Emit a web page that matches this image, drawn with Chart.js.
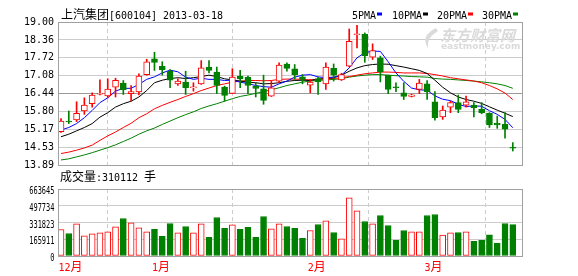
<!DOCTYPE html>
<html>
<head>
<meta charset="utf-8">
<script src="https://cdn.jsdelivr.net/npm/chart.js@4.4.1/dist/chart.umd.min.js"></script>
<style>
  html, body { margin: 0; padding: 0; background: #fff; }
  #wrap { position: relative; width: 578px; height: 276px; overflow: hidden; }
  canvas { position: absolute; left: 0; }
  #kline { top: 0; }
  #vol { top: 184px; }
</style>
</head>
<body>
<div id="wrap">
  <canvas id="kline" width="578" height="184"></canvas>
  <canvas id="vol" width="578" height="92"></canvas>
</div>
<script>
/* ------------------- DATA ------------------- */
const TITLE = "上汽集团[600104] 2013-03-18";
const VOL_TITLE = "成交量:310112 手";
const WATERMARK = ["东方财富网", "eastmoney.com"];

const opens  = [15.08,15.46,15.50,15.82,16.08,16.42,16.36,16.67,16.82,16.44,16.50,17.12,17.68,17.42,17.24,16.79,16.85,16.65,16.79,17.39,
                17.21,16.67,16.45,17.07,17.03,16.71,16.61,16.35,16.89,17.50,17.33,17.04,16.74,16.98,16.79,17.34,16.93,17.42,18.55,18.57,
                17.74,17.72,17.10,16.68,16.47,16.34,16.59,16.79,16.15,15.61,15.96,16.12,16.03,16.03,15.88,15.74,15.39,15.34,14.52];
const highs  = [15.55,15.82,16.15,16.29,16.47,16.93,16.97,16.99,16.91,16.73,17.15,17.67,17.92,17.58,17.30,16.97,17.24,16.83,17.62,17.62,
                17.39,16.71,17.33,17.27,17.07,16.83,17.10,16.89,17.54,17.54,17.48,17.12,16.95,17.03,17.54,17.50,17.17,18.75,18.88,18.61,
                18.22,17.78,17.10,16.83,16.83,16.42,16.95,16.91,16.51,16.00,16.17,16.39,16.35,16.12,16.12,15.76,15.64,15.76,14.69];
const lows   = [15.05,15.37,15.44,15.70,15.96,16.39,16.29,16.32,16.41,16.17,16.39,17.10,17.27,17.10,16.65,16.73,16.41,16.53,16.77,17.18,
                16.44,16.17,16.44,16.65,16.44,16.32,16.06,16.34,16.83,17.24,16.95,16.79,16.47,16.41,16.59,16.89,16.91,17.40,18.07,17.56,
                17.66,16.86,16.44,16.51,16.23,16.32,16.44,16.23,15.49,15.52,15.76,15.76,15.96,15.61,15.72,15.23,15.20,14.85,14.39];
const closes = [15.46,15.43,15.74,16.03,16.39,16.45,16.60,16.92,16.58,16.51,17.07,17.58,17.56,17.30,16.92,16.89,16.65,16.68,17.36,17.27,
                16.73,16.38,17.03,16.97,16.73,16.63,16.20,16.65,17.46,17.34,17.12,16.95,16.85,16.86,17.39,17.10,17.12,18.31,18.58,17.80,
                17.98,17.22,16.59,16.65,16.34,16.40,16.82,16.51,15.58,15.85,16.12,15.88,16.15,15.94,15.76,15.32,15.32,15.17,14.49];

const ma5  = [15.14,15.23,15.37,15.58,15.84,16.12,16.29,16.53,16.63,16.63,16.77,16.95,17.04,17.18,17.28,17.22,17.03,16.95,16.99,16.95,
              16.95,16.91,16.92,16.85,16.80,16.73,16.69,16.67,16.79,16.89,17.03,17.10,17.12,17.04,17.01,17.03,17.10,17.36,17.72,17.90,
              17.96,17.95,17.58,17.18,16.88,16.64,16.58,16.56,16.36,16.24,16.19,16.06,15.98,16.00,15.99,15.83,15.70,15.52,15.22];
const ma10 = [14.90,14.99,15.11,15.23,15.37,15.60,15.76,15.96,16.08,16.17,16.32,16.55,16.83,16.92,16.98,17.01,16.98,17.01,17.05,17.10,
              17.05,16.97,16.93,16.89,16.85,16.83,16.79,16.80,16.83,16.88,16.91,16.92,16.91,16.96,16.98,17.01,17.10,17.24,17.36,17.44,
              17.48,17.50,17.49,17.44,17.39,17.33,17.27,17.16,16.92,16.67,16.47,16.32,16.23,16.17,16.09,15.97,15.85,15.74,15.62];
const ma20 = [14.30,14.35,14.42,14.50,14.60,14.77,14.93,15.07,15.23,15.38,15.58,15.72,15.90,16.02,16.13,16.23,16.34,16.44,16.55,16.64,
              16.73,16.79,16.85,16.89,16.91,16.91,16.90,16.91,16.95,16.96,16.96,16.95,16.93,16.95,16.97,16.98,17.01,17.05,17.10,17.15,
              17.18,17.21,17.21,17.20,17.18,17.18,17.18,17.16,17.12,17.07,17.01,16.97,16.93,16.89,16.83,16.73,16.61,16.46,16.23];
const ma30 = [14.07,14.11,14.18,14.25,14.33,14.42,14.51,14.61,14.73,14.85,14.99,15.11,15.21,15.34,15.46,15.58,15.69,15.79,15.91,16.00,
              16.08,16.17,16.26,16.34,16.39,16.45,16.51,16.58,16.65,16.73,16.79,16.85,16.89,16.91,16.93,16.95,16.97,17.03,17.07,17.10,
              17.12,17.12,17.10,17.08,17.07,17.05,17.04,17.03,16.98,16.96,16.95,16.93,16.91,16.89,16.86,16.83,16.79,16.73,16.63];

const volumes = [262800,223000,318700,200000,220000,230000,240000,289000,371000,328500,
                 279000,240000,263000,194000,322000,230000,292000,230000,319000,184000,
                 381000,273000,309000,263000,283000,184000,391000,269000,319000,292000,
                 273000,174000,253000,312000,348000,233000,171000,575000,447000,342000,
                 319000,401000,302000,154000,253000,240000,240000,401000,411000,207000,
                 230000,233000,240000,145000,154000,210000,125000,322000,310112];

const priceTicks = [13.89, 14.53, 15.17, 15.80, 16.44, 17.08, 17.72, 18.36, 19.00];
const volTicks = [0, 165911, 331823, 497734, 663645];
const monthIdx = [0, 12, 32, 47];
const monthLabels = ["12月", "1月", "2月", "3月"];
const maNames = ["5PMA", "10PMA", "20PMA", "30PMA"];

/* ------------------- STYLE ------------------- */
const UP = "#ff0000", DOWN = "#008000";
const MA_COLORS = ["#0000ff", "#000000", "#ff0000", "#008000"];
const GRID = "#cccccc", GRID_MID = "#9a9a9a", FRAME = "#a0a0a0";
const ASCII_FONT = '10px "DejaVu Sans Mono"';
const CJK_FONT = '12px "Noto Sans CJK SC"';
const X_MIN = -0.385, X_MAX = 59.18;
const LEGEND_X = [352, 392, 437, 482];

const idx = closes.map((_, i) => i);
const isUp = closes.map((c, i) => c >= opens[i]);

// SimSun-like layout: half width for ascii, full width for CJK
function drawText(ctx, str, x, y, color) {
  ctx.save();
  ctx.fillStyle = color;
  ctx.textBaseline = "alphabetic";
  ctx.textAlign = "left";
  for (const ch of str) {
    const wide = ch.charCodeAt(0) > 255;
    ctx.font = wide ? CJK_FONT : ASCII_FONT;
    ctx.fillText(ch, x, y);
    x += wide ? 12 : 6;
  }
  ctx.restore();
}

const al = v => Math.round(v - 0.5) + 0.5;

const framePlugin = {
  id: "frame",
  afterDatasetsDraw(chart) {
    const { ctx, chartArea: a } = chart;
    ctx.save();
    ctx.strokeStyle = FRAME;
    ctx.lineWidth = 1;
    ctx.strokeRect(al(a.left), al(a.top), al(a.right) - al(a.left), al(a.bottom) - al(a.top));
    ctx.restore();
  }
};

const headerPlugin = {
  id: "header",
  afterDraw(chart) {
    const ctx = chart.ctx;
    drawText(ctx, TITLE, 61, 18.5, "#000");
    maNames.forEach((n, k) => {
      drawText(ctx, n, LEGEND_X[k], 18.5, "#000");
      ctx.fillStyle = MA_COLORS[k];
      ctx.fillRect(LEGEND_X[k] + n.length * 6 + 1, 12.5, 5, 3);
    });
    drawText(ctx, VOL_TITLE, 60, 180.5, "#000");
  }
};

const watermarkPlugin = {
  id: "watermark",
  beforeDatasetsDraw(chart) {
    const ctx = chart.ctx;
    ctx.save();
    ctx.fillStyle = "#dadada";
    ctx.font = 'italic bold 15px "Noto Sans CJK SC"';
    ctx.fillText(WATERMARK[0], 440, 41);
    ctx.font = 'bold 9px "DejaVu Sans"';
    ctx.fillText(WATERMARK[1], 441, 49);
    ctx.beginPath();
    ctx.moveTo(436, 28);
    ctx.quadraticCurveTo(420, 36, 428, 48);
    ctx.quadraticCurveTo(426, 38, 438, 31);
    ctx.closePath();
    ctx.fill();
    ctx.restore();
  }
};

const xScale = (extra) => Object.assign({
  type: "linear",
  min: X_MIN,
  max: X_MAX,
  offset: false,
  afterBuildTicks: s => { s.ticks = monthIdx.map(v => ({ value: v })); },
  afterFit: s => { s.height = 0; },
  ticks: { display: false },
  grid: { color: GRID, drawTicks: false },
  border: { display: false, dash: [4, 3] }
}, extra);

/* ------------------- K LINE ------------------- */
new Chart(document.getElementById("kline"), {
  type: "bar",
  data: {
    datasets: [
      {
        label: "body",
        data: idx.map(i => ({ x: i, y: [opens[i], closes[i]] })),
        backgroundColor: idx.map(i => isUp[i] ? "#ffffff" : DOWN),
        borderColor: idx.map(i => isUp[i] ? UP : DOWN),
        borderWidth: 1,
        borderSkipped: false,
        barThickness: 6,
        grouped: false,
        order: 0
      },
      {
        label: "wick",
        data: idx.map(i => ({ x: i, y: [lows[i], highs[i]] })),
        backgroundColor: idx.map(i => isUp[i] ? UP : DOWN),
        borderWidth: 0,
        barThickness: 1,
        grouped: false,
        order: 1
      },
      ...[ma5, ma10, ma20, ma30].map((m, k) => ({
        type: "line",
        label: maNames[k],
        data: idx.map(i => ({ x: i, y: m[i] })),
        borderColor: MA_COLORS[k],
        borderWidth: 1,
        pointRadius: 0,
        tension: 0,
        fill: false,
        order: 2
      }))
    ]
  },
  options: {
    responsive: false,
    animation: false,
    events: [],
    layout: { padding: { left: 0, right: 56, top: 22, bottom: 19 } },
    plugins: { legend: { display: false }, tooltip: { enabled: false } },
    scales: {
      x: xScale({}),
      y: {
        min: 13.89,
        max: 19.00,
        afterBuildTicks: s => { s.ticks = priceTicks.map(v => ({ value: v })); },
        afterFit: s => { s.width = 58; },
        ticks: {
          padding: 4,
          color: "#000",
          font: { family: "DejaVu Sans Mono", size: 10 },
          callback: v => v.toFixed(2)
        },
        grid: { color: c => (c.tick && c.tick.value === 16.44) ? GRID_MID : GRID, drawTicks: false },
        border: { display: false }
      }
    }
  },
  plugins: [watermarkPlugin, framePlugin, headerPlugin]
});

/* ------------------- VOLUME ------------------- */
const volLabels = {
  id: "volLabels",
  afterDraw(chart) {
    const { ctx, scales } = chart;
    ctx.save();
    ctx.fillStyle = "#000";
    ctx.font = ASCII_FONT;
    ctx.textAlign = "right";
    ctx.textBaseline = "middle";
    volTicks.forEach(v => {
      const y = scales.y.getPixelForValue(v);
      ctx.save();
      ctx.translate(54.5, y + 2.5);
      ctx.scale(0.7, 1);
      ctx.fillText(String(v), 0, 0);
      ctx.restore();
    });
    ctx.restore();
    monthIdx.forEach((m, k) => {
      drawText(ctx, monthLabels[k], scales.x.getPixelForValue(m) - 2.5, 87, UP);
    });
  }
};

new Chart(document.getElementById("vol"), {
  type: "bar",
  data: {
    datasets: [{
      label: "volume",
      data: idx.map(i => ({ x: i, y: volumes[i] })),
      backgroundColor: idx.map(i => isUp[i] ? "#ffffff" : DOWN),
      borderColor: idx.map(i => isUp[i] ? UP : DOWN),
      borderWidth: 1,
      borderSkipped: false,
      barThickness: 6,
      grouped: false
    }]
  },
  options: {
    responsive: false,
    animation: false,
    events: [],
    layout: { padding: { left: 0, right: 56, top: 5, bottom: 20 } },
    plugins: { legend: { display: false }, tooltip: { enabled: false } },
    scales: {
      x: xScale({}),
      y: {
        min: 0,
        max: 663645,
        afterBuildTicks: s => { s.ticks = volTicks.map(v => ({ value: v })); },
        afterFit: s => { s.width = 58; },
        ticks: { display: false },
        grid: { color: GRID, drawTicks: false },
        border: { display: false }
      }
    }
  },
  plugins: [framePlugin, volLabels]
});
</script>
</body>
</html>
